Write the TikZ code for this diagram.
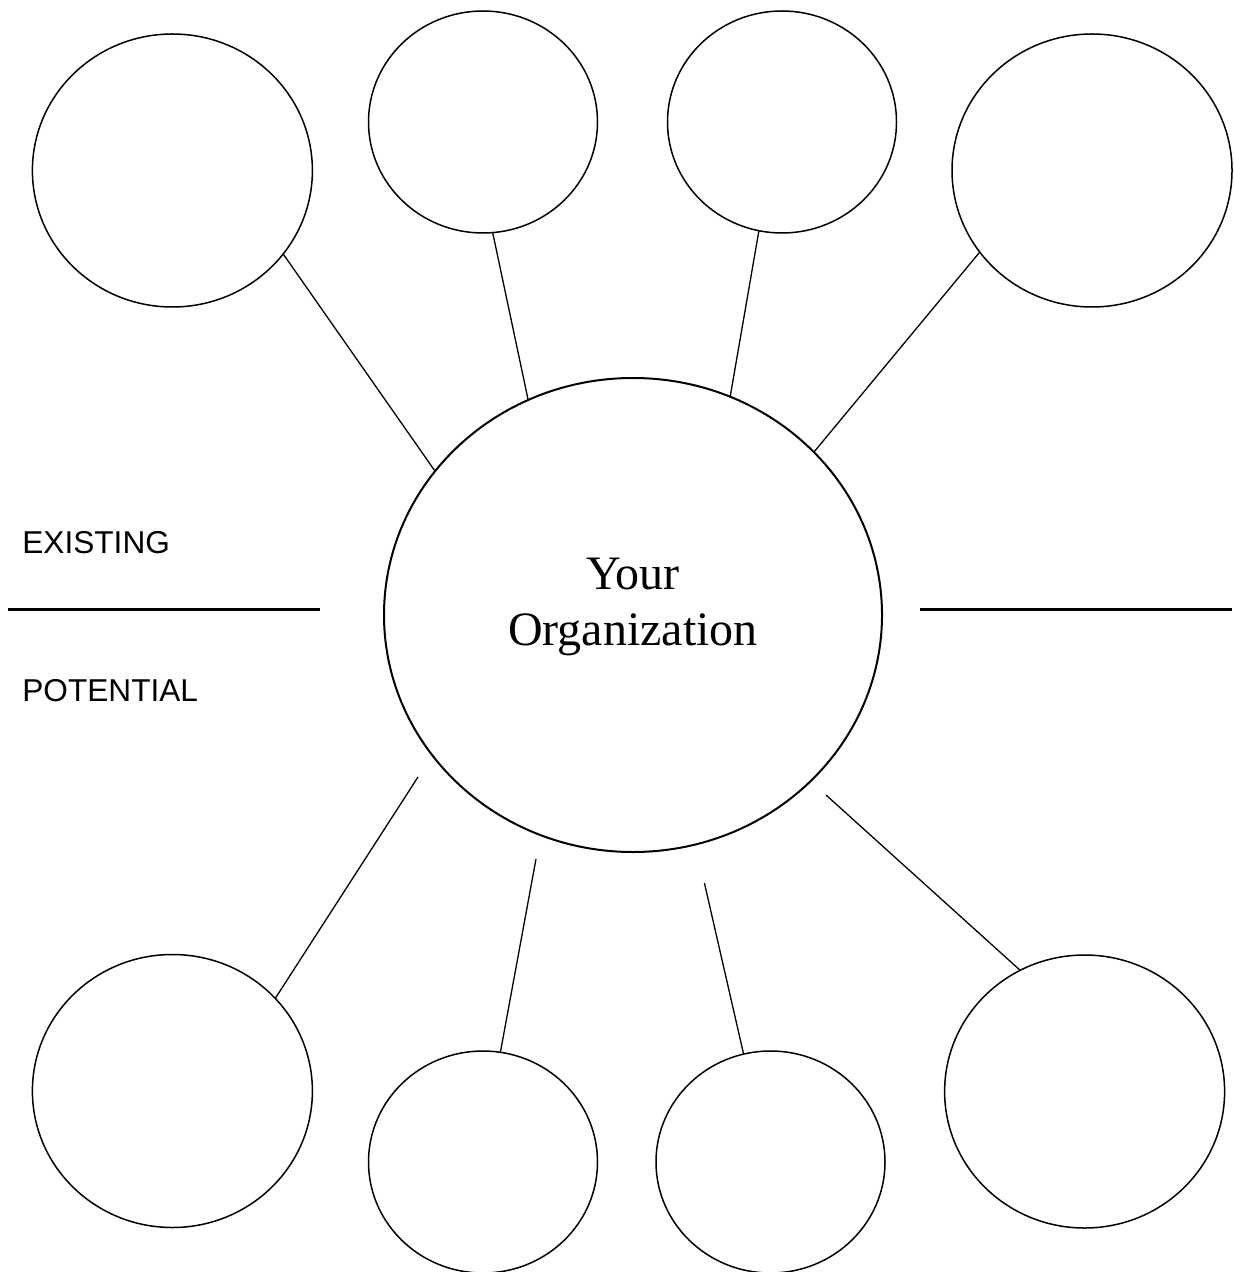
\documentclass[tikz,border=0pt]{standalone}
\usepackage{fontspec}
\setmainfont{Liberation Serif}
\setsansfont{Liberation Sans}
\usetikzlibrary{shapes.geometric}
\definecolor{LineClr}{rgb}{0,0,0}

\begin{document}
\begin{tikzpicture}[x=0.5pt,y=-0.5pt,
  bubble/.style={draw=LineClr,ellipse,line width=0.75pt,inner sep=0pt,outer sep=0pt},
  bigbubble/.style={bubble,minimum width=140pt,minimum height=136.5pt},
  smallbubble/.style={bubble,minimum width=114.5pt,minimum height=111pt},
  hub/.style={bubble,line width=1pt,minimum width=249pt,minimum height=237pt},
  spoke/.style={draw=LineClr,line width=0.65pt},
  divider/.style={draw=LineClr,line width=1.25pt},
  tag/.style={font=\sffamily\fontsize{15.8}{19}\selectfont,anchor=base west,inner sep=0pt}]

\useasboundingbox (0,0) rectangle (1233,1272);

\node[hub] (org) at (633,615) {};
\node[font=\fontsize{24}{27.6}\selectfont,align=center] (orgname) at (633,607) {Your\\Organization};

\node[bigbubble] (ex1) at (172.4,170.5) {};
\node[smallbubble] (ex2) at (483,122) {};
\node[smallbubble] (ex3) at (782,122) {};
\node[bigbubble] (ex4) at (1092,170.5) {};

\node[bigbubble] (po1) at (172.4,1091) {};
\node[smallbubble] (po2) at (483,1162) {};
\node[smallbubble] (po3) at (770.5,1162) {};
\node[bigbubble] (po4) at (1084.6,1091.5) {};

\draw[spoke] (ex1.-37) -- (org.144);
\draw[spoke] (ex2.-85) -- (org.116);
\draw[spoke] (ex3.-102) -- (org.66);
\draw[spoke] (ex4.-144) -- (org.42);

\coordinate (po1end) at (418,777);
\coordinate (po2end) at (536,859);
\coordinate (po3end) at (704.4,883);
\coordinate (po4end) at (826,795);
\draw[spoke] (po1end) -- (po1.42);
\draw[spoke] (po2end) -- (po2.81);
\draw[spoke] (po3end) -- (po3.104);
\draw[spoke] (po4end) -- (po4.118);

\coordinate (divLa) at (8,609.5);
\coordinate (divLb) at (320,609.5);
\coordinate (divRa) at (920,609.5);
\coordinate (divRb) at (1232,609.5);
\draw[divider] (divLa) -- (divLb);
\draw[divider] (divRa) -- (divRb);

\node[tag] (existing) at (22,553) {EXISTING};
\node[tag] (potential) at (22,701) {POTENTIAL};

\end{tikzpicture}
\end{document}
